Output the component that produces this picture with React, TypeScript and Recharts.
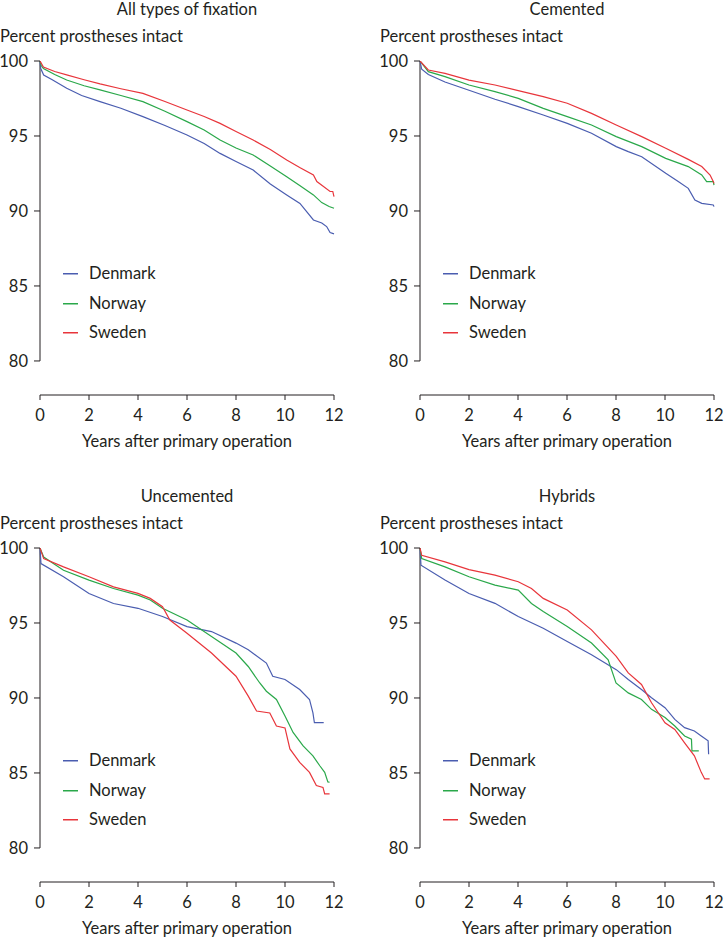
import { LineChart, Line, XAxis, YAxis, ReferenceLine } from "recharts";

type Pt = [number, number];

const COUNTRIES = ["Denmark", "Norway", "Sweden"];
const COLORS = ["#4a5db0", "#2aa84a", "#e8353b"];
const X_TICKS = [0, 2, 4, 6, 8, 10, 12];
const Y_TICKS = [80, 85, 90, 95, 100];
const TEXT = "#231f20";
const FONT = "Lato, 'Open Sans', sans-serif";
const FS = 16.5;

// All types of fixation
const allDenmark: Pt[] = [[0, 100], [0.03, 99.5], [0.15, 99.07], [0.5, 98.75], [1.09, 98.18], [1.7, 97.7], [2.45, 97.29], [3.3, 96.85], [4.2, 96.29], [5.1, 95.7], [6.0, 95.07], [6.7, 94.5], [7.35, 93.84], [8.0, 93.3], [8.7, 92.73], [9.4, 91.8], [10.07, 91.07], [10.61, 90.5], [11.16, 89.4], [11.5, 89.2], [11.7, 88.96], [11.84, 88.56], [12, 88.47]];
const allNorway: Pt[] = [[0, 100], [0.05, 99.7], [0.14, 99.5], [0.6, 99.1], [1.09, 98.73], [1.8, 98.35], [2.45, 98.07], [3.3, 97.7], [4.2, 97.29], [5.1, 96.65], [6.0, 95.96], [6.7, 95.4], [7.35, 94.73], [8.0, 94.2], [8.7, 93.73], [9.4, 93.0], [10.07, 92.29], [10.6, 91.7], [11.16, 91.07], [11.5, 90.56], [11.8, 90.3], [12, 90.18]];
const allSweden: Pt[] = [[0, 100], [0.14, 99.6], [0.6, 99.3], [1.09, 99.07], [1.8, 98.75], [2.45, 98.47], [3.3, 98.15], [4.2, 97.84], [5.1, 97.3], [6.0, 96.73], [6.7, 96.3], [7.35, 95.84], [8.0, 95.3], [8.7, 94.73], [9.4, 94.1], [10.07, 93.4], [10.6, 92.9], [11.16, 92.4], [11.3, 91.96], [11.84, 91.3], [11.95, 91.3], [12, 90.95]];

// Cemented
const cemDenmark: Pt[] = [[0, 100], [0.07, 99.45], [0.34, 99.1], [1.02, 98.6], [2.0, 98.05], [3.06, 97.45], [4.01, 96.96], [5.03, 96.4], [6.01, 95.84], [7.0, 95.18], [8.01, 94.29], [8.5, 93.96], [9.05, 93.62], [10.03, 92.51], [10.54, 91.96], [10.95, 91.51], [11.22, 90.73], [11.5, 90.51], [11.97, 90.4], [12, 90.29]];
const cemNorway: Pt[] = [[0, 100], [0.34, 99.29], [1.02, 98.96], [2.0, 98.4], [3.06, 97.96], [4.01, 97.51], [5.03, 96.84], [6.01, 96.29], [7.0, 95.73], [8.01, 94.96], [9.05, 94.29], [10.03, 93.51], [10.95, 92.96], [11.5, 92.4], [11.7, 91.96], [11.97, 91.96], [12, 91.73]];
const cemSweden: Pt[] = [[0, 100], [0.34, 99.4], [1.02, 99.18], [2.0, 98.73], [3.06, 98.4], [4.01, 98.02], [5.03, 97.62], [6.01, 97.18], [7.0, 96.51], [8.01, 95.73], [9.05, 94.96], [10.03, 94.18], [10.95, 93.44], [11.5, 92.96], [11.84, 92.4], [11.97, 91.96], [12, 91.84]];

// Uncemented
const uncDenmark: Pt[] = [[0, 100], [0.04, 98.96], [0.96, 98.08], [2.0, 96.97], [3.0, 96.3], [4.0, 95.98], [5.0, 95.43], [6.0, 94.76], [7.0, 94.43], [8.0, 93.66], [8.5, 93.22], [9.24, 92.33], [9.5, 91.45], [10.0, 91.23], [10.6, 90.56], [11.0, 89.9], [11.14, 89.0], [11.2, 88.35], [11.58, 88.35]];
const uncNorway: Pt[] = [[0, 100], [0.15, 99.4], [0.96, 98.52], [2.0, 97.86], [3.0, 97.3], [4.0, 96.86], [4.5, 96.53], [5.0, 95.98], [6.0, 95.2], [7.0, 94.1], [8.0, 93.0], [8.5, 92.1], [8.97, 91.0], [9.24, 90.45], [9.65, 89.9], [10.0, 88.8], [10.33, 87.7], [10.74, 86.8], [11.14, 86.14], [11.42, 85.48], [11.62, 85.04], [11.75, 84.4], [11.82, 84.38]];
const uncSweden: Pt[] = [[0, 100], [0.15, 99.29], [0.96, 98.74], [2.0, 98.08], [3.0, 97.41], [4.0, 96.97], [4.5, 96.64], [5.0, 96.09], [5.3, 95.2], [6.0, 94.32], [7.0, 93.0], [8.0, 91.45], [8.5, 90.12], [8.84, 89.13], [9.38, 89.0], [9.65, 88.13], [10.0, 88.0], [10.2, 86.6], [10.6, 85.7], [11.0, 85.04], [11.28, 84.16], [11.55, 84.04], [11.62, 83.6], [11.82, 83.6]];

// Hybrids
const hybDenmark: Pt[] = [[0, 100], [0.04, 98.85], [1.02, 97.86], [2.0, 96.97], [3.06, 96.31], [4.01, 95.43], [5.03, 94.65], [6.01, 93.77], [7.0, 92.88], [8.01, 91.89], [8.5, 91.23], [9.04, 90.56], [9.45, 90.01], [10.0, 89.35], [10.4, 88.57], [10.8, 88.02], [11.2, 87.8], [11.48, 87.47], [11.76, 87.14], [11.78, 86.25]];
const hybNorway: Pt[] = [[0, 100], [0.07, 99.3], [1.02, 98.74], [2.0, 98.08], [3.06, 97.52], [4.01, 97.19], [4.55, 96.3], [5.03, 95.76], [6.01, 94.76], [7.0, 93.66], [7.68, 92.55], [8.0, 91.0], [8.5, 90.34], [9.04, 89.9], [9.45, 89.24], [10.0, 88.7], [10.4, 88.13], [10.8, 87.47], [11.08, 87.25], [11.1, 86.47], [11.38, 86.47]];
const hybSweden: Pt[] = [[0, 100], [0.07, 99.51], [1.02, 99.07], [2.0, 98.56], [3.06, 98.19], [4.01, 97.75], [4.55, 97.3], [5.03, 96.64], [6.01, 95.87], [7.0, 94.54], [8.01, 92.77], [8.5, 91.67], [9.04, 90.9], [9.45, 89.68], [10.0, 88.35], [10.4, 87.9], [10.8, 87.0], [11.2, 86.14], [11.48, 85.04], [11.62, 84.6], [11.82, 84.6]];

const toRows = (pts: Pt[]) => pts.map(([x, y]) => ({ x, y }));

interface PanelProps {
  title: string;
  left: number;
  top: number;
  series: Pt[][];
}

function Panel({ title, left, top, series }: PanelProps) {
  const textStyle = { position: "absolute" as const, fontFamily: FONT, fontSize: FS, color: TEXT, lineHeight: "20px", whiteSpace: "nowrap" as const };
  const legendTops = [263, 293, 322];
  return (
    <div style={{ position: "absolute", left, top, width: 344, height: 470 }}>
      <LineChart width={344} height={470} margin={{ top: 61, right: 10, bottom: 45, left: 0 }}>
        <XAxis
          type="number"
          dataKey="x"
          domain={[0, 12]}
          ticks={X_TICKS}
          height={30}
          tickSize={5}
          tickMargin={9}
          stroke={TEXT}
          tick={{ fill: TEXT, fontSize: FS, fontFamily: FONT }}
          allowDuplicatedCategory={false}
        />
        <YAxis
          type="number"
          domain={[77.73, 100]}
          ticks={Y_TICKS}
          width={40}
          axisLine={false}
          tickSize={6}
          tickMargin={6}
          stroke={TEXT}
          tick={{ fill: TEXT, fontSize: FS, fontFamily: FONT }}
          allowDataOverflow
        />
        <ReferenceLine segment={[{ x: 0, y: 80 }, { x: 0, y: 100 }]} stroke={TEXT} strokeWidth={1} />
        {series.map((pts, i) => (
          <Line
            key={COUNTRIES[i]}
            data={toRows(pts)}
            dataKey="y"
            type="linear"
            stroke={COLORS[i]}
            strokeWidth={1.2}
            dot={false}
            isAnimationActive={false}
          />
        ))}
      </LineChart>
      <div style={{ ...textStyle, left: 40, width: 294, top: -1, textAlign: "center" }}>{title}</div>
      <div style={{ ...textStyle, left: 0, top: 26 }}>Percent prostheses intact</div>
      <div style={{ ...textStyle, left: 40, width: 294, top: 431, textAlign: "center" }}>Years after primary operation</div>
      {COUNTRIES.map((c, i) => (
        <div key={c} style={{ ...textStyle, left: 63, top: legendTops[i], height: 20, display: "flex", alignItems: "center" }}>
          <svg width={15} height={20} style={{ marginRight: 11, display: "block" }}>
            <rect x={0} y={10} width={15} height={1.5} fill={COLORS[i]} />
          </svg>
          <span>{c}</span>
        </div>
      ))}
    </div>
  );
}

export default function App() {
  return (
    <div style={{ position: "absolute", left: 0, top: 0, width: 724, height: 939, background: "#fff" }}>
      <Panel title="All types of fixation" left={0} top={0} series={[allDenmark, allNorway, allSweden]} />
      <Panel title="Cemented" left={380} top={0} series={[cemDenmark, cemNorway, cemSweden]} />
      <Panel title="Uncemented" left={0} top={487} series={[uncDenmark, uncNorway, uncSweden]} />
      <Panel title="Hybrids" left={380} top={487} series={[hybDenmark, hybNorway, hybSweden]} />
    </div>
  );
}
